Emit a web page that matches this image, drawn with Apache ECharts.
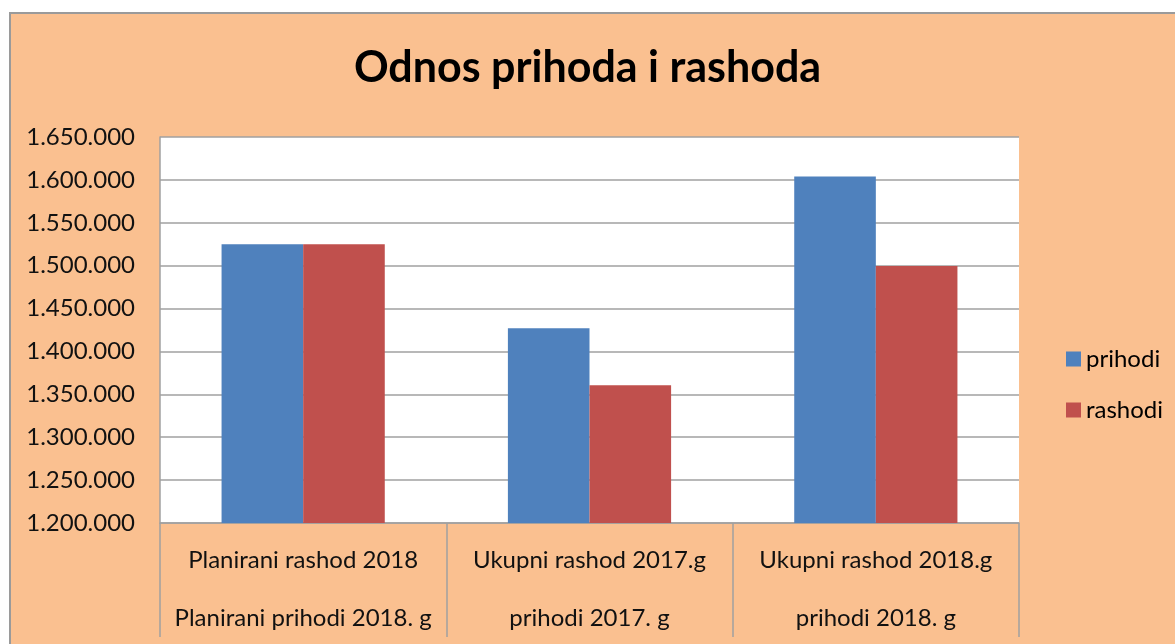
<!DOCTYPE html>
<html>
<head>
<meta charset="utf-8">
<script src="https://cdn.jsdelivr.net/npm/echarts@6/dist/echarts.min.js"></script>
<style>
    html, body { margin: 0; padding: 0; background: #fff; }
    #frame {
        position: absolute; left: 9px; top: 12px; width: 1170px; height: 640px;
        background: #FAC090; border-left: 2px solid #9a9a9a; border-top: 2px solid #9a9a9a;
    }
    #chart { position: absolute; left: 0; top: 0; width: 1175px; height: 644px; }
</style>
</head>
<body>
<div id="frame"></div>
<div id="chart"></div>
<script>
var categories = [
    'Planirani rashod 2018\nPlanirani prihodi 2018. g',
    'Ukupni rashod 2017.g\nprihodi 2017. g',
    'Ukupni rashod 2018.g\nprihodi 2018. g'
];
var prihodi = [1525000, 1427000, 1604000];
var rashodi = [1525000, 1360500, 1499500];
var yMin = 1200000;
var yMax = 1650000;
var yStep = 50000;

var font = 'Lato';
var chart = echarts.init(document.getElementById('chart'));

function fmt(v) {
    return String(v).replace(/\B(?=(\d{3})+(?!\d))/g, '.');
}

var option = {
    backgroundColor: 'transparent',
    animation: false,
    title: {
        text: 'Odnos prihoda i rashoda',
        left: 'center',
        top: 42,
        textStyle: { fontFamily: font, fontSize: 43, fontWeight: 'bold', color: '#000' }
    },
    legend: {
        orient: 'vertical',
        left: 1061,
        top: 342,
        itemWidth: 15,
        itemHeight: 15,
        itemGap: 27,
        icon: 'rect',
        textStyle: { fontFamily: font, fontSize: 24, lineHeight: 24, color: '#000' },
        data: ['prihodi', 'rashodi']
    },
    grid: {
        left: 160,
        right: 156,
        top: 137,
        bottom: 121,
        outerBoundsMode: 'none',
        show: true,
        backgroundColor: '#fff',
        borderWidth: 0
    },
    xAxis: {
        type: 'category',
        data: categories,
        axisLine: { lineStyle: { color: '#a0a0a0', width: 1.5 } },
        axisTick: { show: true, interval: 0, length: 114, lineStyle: { color: '#a0a0a0', width: 1.5 } },
        axisLabel: {
            interval: 0,
            margin: 8,
            fontFamily: font,
            fontSize: 24,
            lineHeight: 58,
            color: '#111'
        }
    },
    yAxis: {
        type: 'value',
        min: yMin,
        max: yMax,
        interval: yStep,
        axisLine: { show: true, lineStyle: { color: '#a0a0a0', width: 1.5 } },
        axisTick: { show: false },
        splitLine: { lineStyle: { color: '#a0a0a0', width: 1.5 } },
        axisLabel: {
            margin: 25,
            fontFamily: font,
            fontSize: 24,
            color: '#111',
            formatter: fmt
        }
    },
    series: [
        {
            name: 'prihodi',
            type: 'bar',
            data: prihodi,
            barGap: 0,
            barCategoryGap: '43%',
            itemStyle: { color: '#4F81BD' }
        },
        {
            name: 'rashodi',
            type: 'bar',
            data: rashodi,
            itemStyle: { color: '#C0504D' }
        }
    ]
};

chart.setOption(option);
</script>
</body>
</html>
